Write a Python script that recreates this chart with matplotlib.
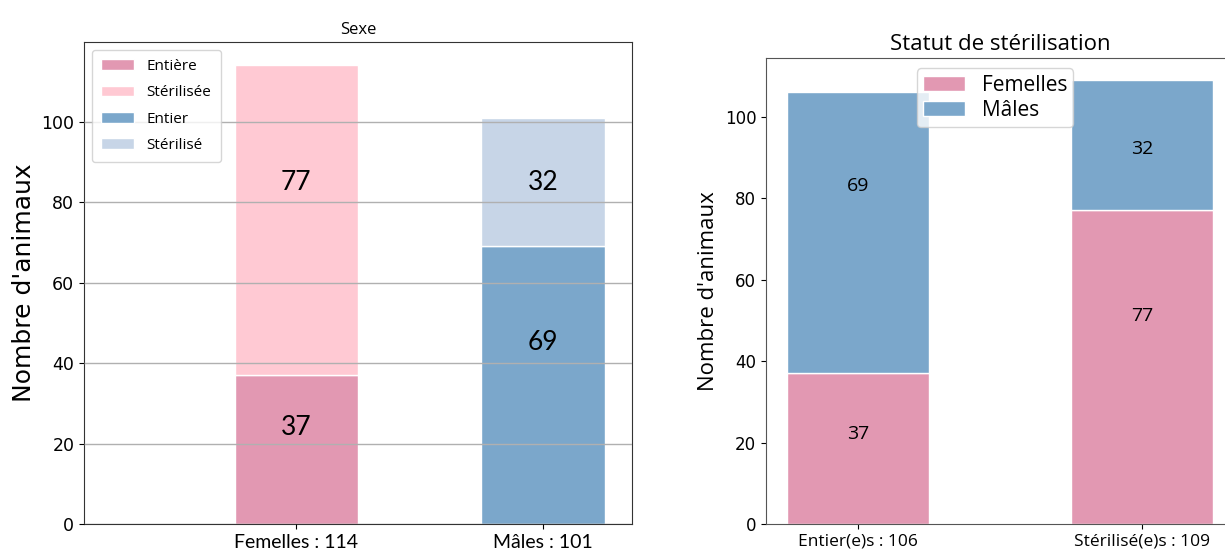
import matplotlib.pyplot as plt

# left panel: by sex
sexe_labels = ['Femelles : 114', 'Mâles : 101']
entiers_sexe = [37, 69]
steril_sexe = [77, 32]

# right panel: by sterilisation status
statut_labels = ['Entier(e)s : 106', 'Stérilisé(e)s : 109']
femelles = [37, 77]
males = [69, 32]

pink = '#E298B2'
pink_light = '#FFC9D3'
blue = '#7BA7CB'
blue_light = '#C7D5E7'

fig = plt.figure(figsize=(12.25, 5.58), dpi=100)

# ---- left chart ----
ax1 = fig.add_axes([84 / 1225, 34 / 558, 548 / 1225, 482 / 558])
x = [0, 1]
ax1.bar(x[0], entiers_sexe[0], 0.5, color=pink, edgecolor='white', label='Entière')
ax1.bar(x[0], steril_sexe[0], 0.5, bottom=entiers_sexe[0], color=pink_light,
        edgecolor='white', label='Stérilisée')
ax1.bar(x[1], entiers_sexe[1], 0.5, color=blue, edgecolor='white', label='Entier')
ax1.bar(x[1], steril_sexe[1], 0.5, bottom=entiers_sexe[1], color=blue_light,
        edgecolor='white', label='Stérilisé')
ax1.set_axisbelow(False)
ax1.yaxis.grid(True, color='#b0b0b0', linewidth=1)
ax1.set_xlim(-0.86, 1.36)
ax1.set_ylim(0, 119.8)
ax1.set_yticks([0, 20, 40, 60, 80, 100])
ax1.set_xticks(x)
ax1.set_xticklabels(sexe_labels, family='Lato', fontsize=14)
ax1.tick_params(axis='y', labelsize=12.5)
ax1.set_ylabel("Nombre d'animaux", fontsize=18)
ax1.set_title('Sexe', fontsize=12, family='Open Sans')
for sp in ax1.spines.values():
    sp.set_color('#333333')

# value labels, placed as in the original
left_pos = [(0, 24, entiers_sexe[0]), (0, 85, steril_sexe[0]),
            (1, 45, entiers_sexe[1]), (1, 85, steril_sexe[1])]
for xi, yi, v in left_pos:
    ax1.text(xi, yi, str(v), ha='center', va='center', fontsize=19, family='Lato')

ax1.legend(loc='upper left', prop={'family': 'Open Sans', 'size': 11},
           handlelength=2.2, borderpad=0.6, labelspacing=0.75)

# ---- right chart ----
ax2 = fig.add_axes([766 / 1225, 34 / 558, 468 / 1225, 466 / 558])
x2 = [0, 1]
ax2.bar(x2, femelles, 0.5, color=pink, edgecolor='white', label='Femelles')
ax2.bar(x2, males, 0.5, bottom=femelles, color=blue, edgecolor='white', label='Mâles')
ax2.set_xticks(x2)
ax2.set_xticklabels(statut_labels, family='Open Sans', fontsize=12.5)
ax2.tick_params(axis='y', labelsize=12)
ax2.set_ylabel("Nombre d'animaux", fontsize=16, family='Open Sans')
ax2.set_title('Statut de stérilisation', fontsize=16, family='Open Sans')
for sp in ax2.spines.values():
    sp.set_color('#555555')

right_pos = [(0, 22, femelles[0]), (0, 83, males[0]),
             (1, 51, femelles[1]), (1, 92, males[1])]
for xi, yi, v in right_pos:
    ax2.text(xi, yi, str(v), ha='center', va='center', fontsize=14, family='Open Sans')

ax2.legend(loc='upper center', bbox_to_anchor=(0.49, 1.0),
           prop={'family': 'Open Sans', 'size': 15}, framealpha=0.8,
           borderpad=0.3, labelspacing=0.2)

fig.savefig('out.png', dpi=100)
